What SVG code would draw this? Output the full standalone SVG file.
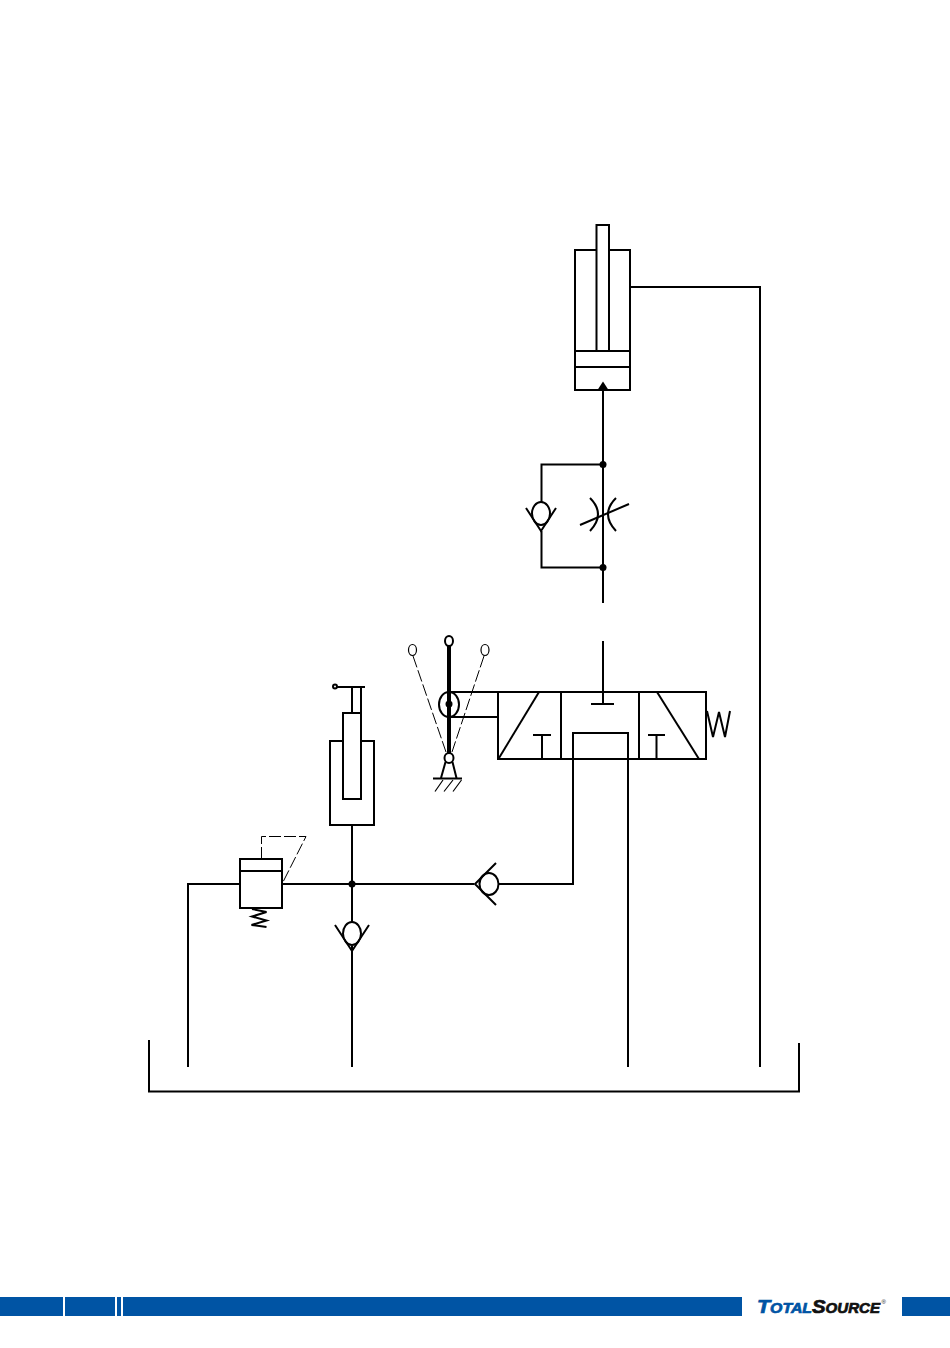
<svg xmlns="http://www.w3.org/2000/svg" width="950" height="1348" viewBox="0 0 950 1348">
<style>
.l{fill:none;stroke:#000;stroke-width:2}
.t{fill:none;stroke:#000;stroke-width:1.2}
.d{fill:none;stroke:#000;stroke-width:1;stroke-dasharray:12 3}
.w{fill:#fff;stroke:#000;stroke-width:2}
.dot{fill:#000}
.bar{fill:#0054a4}
.logo{font-family:"Liberation Sans",Arial,sans-serif;font-weight:700;font-style:italic;stroke-width:.7}
</style>
<rect width="950" height="1348" fill="#fff"/>
<g id="connectors">
<path class="l" d="M631 287H760V1067"/>
<path class="l" d="M603 390V603"/>
<path class="l" d="M603 464.500H541.500V502M541.500 531V567.500H603"/>
<path class="l" d="M603 641V704"/>
<path class="l" d="M573 759V884H498M474 884H282M240 884H188V1067"/>
<path class="l" d="M628 759V1067"/>
<path class="l" d="M352 825V922M352 946V1067"/>
<path class="l" d="M449 692H498M449 717H498"/>
<circle class="dot" cx="603" cy="464.500" r="3.500"/>
<circle class="dot" cx="603" cy="567.500" r="3.500"/>
<circle class="dot" cx="352" cy="884" r="3.500"/>
</g>
<g id="tank"><path class="l" d="M149 1040V1091.500H799V1043"/></g>
<g id="cylinder">
<rect class="l" x="575" y="250" width="55" height="140"/>
<rect class="w" x="596.500" y="225" width="12.500" height="126"/>
<path class="l" d="M575 351H630M575 367H630"/>
<path class="dot" d="M597.500 390L603 381.500L608.500 390Z"/>
</g>
<g id="check-valve-upper">
<ellipse class="l" cx="541" cy="513.500" rx="9" ry="11.500"/>
<path class="l" d="M526 508L541 531L556 508"/>
</g>
<g id="flow-control">
<path class="l" d="M590 498Q606 514 590 531M616 498Q600 514 616 531"/>
<path class="l" d="M580 525L629 504"/>
</g>
<g id="directional-valve">
<rect class="l" x="498" y="692" width="208" height="67"/>
<path class="l" d="M561 692V759M639 692V759"/>
<path class="l" d="M499 758L539 692"/>
<path class="l" d="M657 692L699 759"/>
<path class="l" d="M533 735H551M542 735V759"/>
<path class="l" d="M648 735H665M656.500 735V759"/>
<path class="l" d="M591 704H614"/>
<path class="l" d="M573 759V733H628V759"/>
<path class="l" d="M707 711L713 737L719 712L725 737L730 711"/>
</g>
<g id="lever">
<path class="d" d="M413 656L446 752M484 656L452 752"/>
<ellipse class="t" cx="412.500" cy="650" rx="4" ry="5.500"/>
<ellipse class="t" cx="485" cy="650" rx="4" ry="5.500"/>
<path d="M449 645V754" fill="none" stroke="#000" stroke-width="4"/>
<ellipse class="l" cx="449" cy="704.500" rx="10" ry="12.500"/>
<circle class="dot" cx="449" cy="704" r="3.500"/>
<ellipse class="w" cx="449" cy="641" rx="4" ry="5"/>
<ellipse class="w" cx="449" cy="758" rx="4.500" ry="5"/>
<path class="l" d="M445.500 762L441 778M452.500 762L456.500 778M433 778.500H462"/>
<path class="t" d="M443 780L435 791.500M453 780L444 791.500M461.500 780L453 791.500"/>
</g>
<g id="accumulator">
<rect class="l" x="330" y="741" width="44" height="84"/>
<rect class="w" x="343" y="713" width="18" height="86"/>
<path class="l" d="M352 687V713M361 687V713M335 687H365"/>
<circle class="w" cx="335" cy="686.500" r="2"/>
</g>
<g id="relief-valve">
<path class="d" d="M261.500 859V836.500H306L282 884"/>
<rect class="l" x="240" y="859" width="42" height="49"/>
<path class="l" d="M240 871H282"/>
<path class="l" d="M252 909L266.500 912L252 916.500L266.500 920.500L251.500 925L266.500 927"/>
</g>
<g id="check-valve-lower">
<ellipse class="l" cx="352" cy="933.500" rx="9" ry="11.500"/>
<path class="l" d="M335 925L352 951L369 925"/>
</g>
<g id="check-valve-horizontal">
<ellipse class="l" cx="489" cy="884" rx="9.500" ry="11"/>
<path class="l" d="M496 863L475 884L496 905"/>
</g>
<g id="footer">
<rect class="bar" x="0" y="1297" width="63" height="19"/>
<rect class="bar" x="65" y="1297" width="50" height="19"/>
<rect class="bar" x="117" y="1297" width="4" height="19"/>
<rect class="bar" x="123" y="1297" width="619" height="19"/>
<rect class="bar" x="902" y="1297" width="48" height="19"/>
<text class="logo" x="757" y="1313" fill="#0054a4" stroke="#0054a4" textLength="55" lengthAdjust="spacingAndGlyphs"><tspan font-size="19">T</tspan><tspan font-size="14">OTAL</tspan></text>
<text class="logo" x="812" y="1313" fill="#111" stroke="#111" textLength="68" lengthAdjust="spacingAndGlyphs"><tspan font-size="19">S</tspan><tspan font-size="14">OURCE</tspan></text>
<text x="881.500" y="1304" font-family="Liberation Sans, Arial, sans-serif" font-size="6" fill="#111">®</text>
</g>
</svg>
